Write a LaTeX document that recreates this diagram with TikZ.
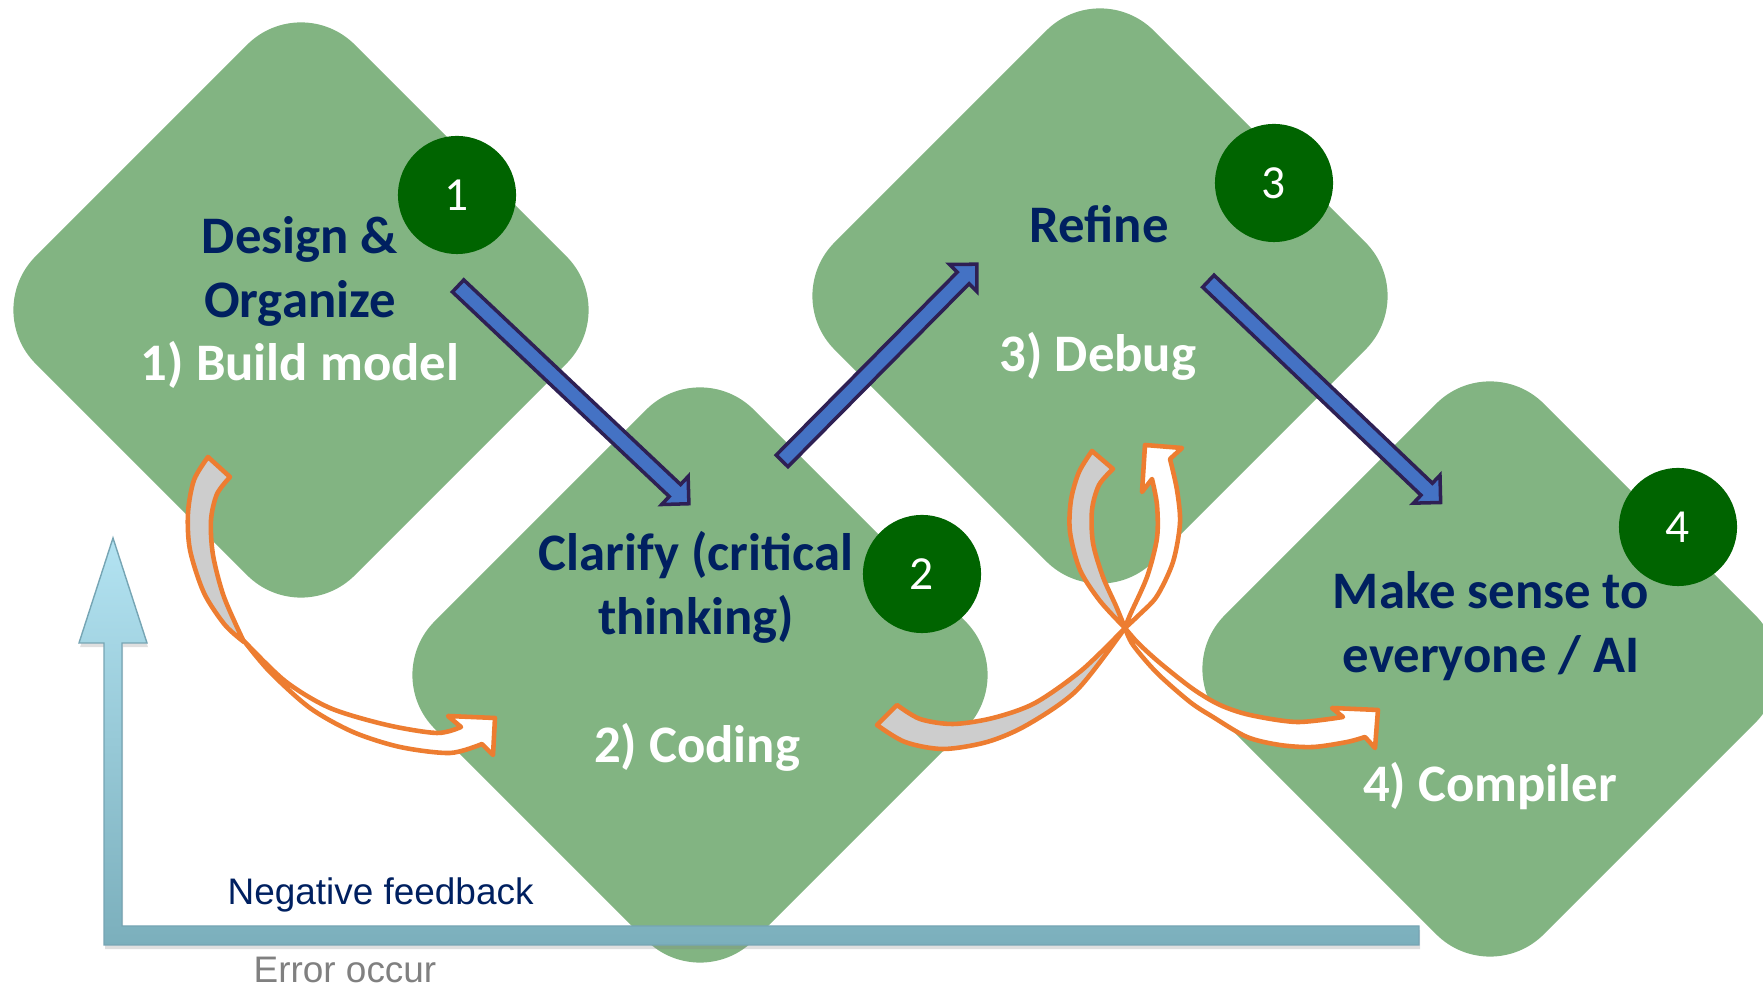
\documentclass[tikz,border=0pt]{standalone}
\usepackage{fontspec}
\setmainfont{Carlito}
\newfontfamily\arialfont{Liberation Sans}
\usetikzlibrary{shapes.arrows,calc,shadows}
\definecolor{boxgreen}{RGB}{130,180,130}
\definecolor{badgegreen}{RGB}{0,100,0}
\definecolor{navytext}{RGB}{0,32,96}
\definecolor{arrowblue}{RGB}{68,114,196}
\definecolor{arrowedge}{RGB}{46,32,84}
\definecolor{ribbonorange}{RGB}{237,125,49}
\definecolor{ribbongray}{RGB}{205,205,205}
\definecolor{loopdark}{RGB}{123,175,188}
\definecolor{looplight}{RGB}{179,227,242}
\definecolor{loopedge}{RGB}{118,165,180}
\definecolor{errgray}{RGB}{128,128,128}
\tikzset{
	stepshape/.style={rectangle,fill=boxgreen,rotate=45,minimum size=4.51cm,rounded corners=0.76cm,inner sep=0pt},
	badge/.style={circle,fill=badgegreen,text=white,minimum size=1.18cm,inner sep=0pt,font=\fontsize{13.5}{16}\selectfont},
	heading/.style={text=navytext,align=center,inner sep=0pt,font=\fontsize{15}{18.2}\selectfont\bfseries},
	steptext/.style={text=white,inner sep=0pt,font=\fontsize{15}{18.2}\selectfont\bfseries},
	flow/.style={single arrow,draw=arrowedge,fill=arrowblue,line width=1pt,inner xsep=0pt,inner ysep=0.065cm,
		single arrow head extend=0.11cm,single arrow tip angle=90,sloped},
	ribbonback/.style={fill=ribbongray,draw=ribbonorange,line width=1.3pt,line join=round},
	ribbonfront/.style={fill=white,draw=ribbonorange,line width=1.3pt,line join=round}
}
\begin{document}
\begin{tikzpicture}[x=0.01cm,y=-0.01cm]
	\useasboundingbox (0,0) rectangle (1763,986);
	\clip (0,0) rectangle (1763,986);
	% stages
	\node[stepshape] (d1) at (301,310) {};
	\node[stepshape] (d2) at (700,675) {};
	\node[stepshape] (d3) at (1100,296) {};
	\node[stepshape] (d4) at (1490,669) {};
	% feedback loop
	\draw[top color=looplight,bottom color=loopdark,draw=loopedge,line width=0.4pt,
		drop shadow={opacity=0.25,shadow xshift=0.3pt,shadow yshift=-1.2pt}]
		(113,538)--(147,643)--(122,643)--(122,926)--(1419,926)--(1419,945)--(104,945)--(104,643)--(79,643)--cycle;
	\node[anchor=base west,inner sep=0pt,text=navytext,font=\arialfont\fontsize{10.5}{12}\selectfont] (neg) at (227,905) {Negative feedback};
	\node[anchor=base west,inner sep=0pt,text=errgray,font=\arialfont\fontsize{10.5}{12}\selectfont] (err) at (253,983) {Error occur};
	% texts (base = last line)
	\node[heading,anchor=base] (h1) at (300,318) {Design \&\\Organize};
	\node[steptext,anchor=base] (s1) at (300,381) {1) Build model};
	\node[heading,anchor=base] (h2) at (696,635) {Clarify (critical\\thinking)};
	\node[steptext,anchor=base] (s2) at (697,763) {2) Coding};
	\node[heading,anchor=base] (h3) at (1099,243) {Refine};
	\node[steptext,anchor=base] (s3) at (1098,372) {3) Debug};
	\node[heading,anchor=base] (h4) at (1491,673) {Make sense to\\everyone / AI};
	\node[steptext,anchor=base] (s4) at (1490,802) {4) Compiler};
	% numbers
	\node[badge] (n1) at (457,195) {1};
	\node[badge] (n2) at (922,574) {2};
	\node[badge] (n3) at (1274,183) {3};
	\node[badge] (n4) at (1678,527) {4};
	% blue arrows
	\coordinate (f1s) at (455,283); \coordinate (f1e) at (686,501);
	\coordinate (f2s) at (779,464); \coordinate (f2e) at (974,267);
	\coordinate (f3s) at (1205,278); \coordinate (f3e) at (1438,500);
	\foreach \fs/\fe in {f1s/f1e,f2s/f2e,f3s/f3e}
		\path let \p1=($(\fe)-(\fs)$),\n1={veclen(\x1,\y1)} in (\fs)--(\fe) node[flow,midway,minimum height=\n1] {};
	% orange ribbons
	\filldraw[ribbonback] plot[smooth] coordinates {(208,457) (194,480) (188,513) (190,550) (204,593) (225,625) (244,642)}
		-- plot[smooth] coordinates {(244,642) (224,597) (213,555) (211,520) (217,494) (230,477)} -- cycle;
	\filldraw[ribbonfront] plot[smooth] coordinates {(244,641) (285,681) (330,708) (387,725) (437,733) (461,727)}
		-- (448,716) -- (495,718) -- (493,755) -- (482,744)
		-- plot[smooth] coordinates {(482,744) (450,753) (400,747) (353,732) (310,708) (270,672) (244,641)} -- cycle;
	\filldraw[ribbonback] plot[smooth] coordinates {(877,725) (905,742) (943,749) (987,742) (1027,725) (1077,690) (1125,628)}
		-- plot[smooth] coordinates {(1125,628) (1082,670) (1035,703) (993,718) (953,724) (920,719) (897,705)} -- cycle;
	\filldraw[ribbonback] plot[smooth] coordinates {(1092,451) (1079,472) (1071,500) (1070,532) (1080,570) (1100,601) (1125,628)}
		-- plot[smooth] coordinates {(1125,628) (1116,606) (1103,577) (1093,543) (1092,510) (1099,485) (1113,469)} -- cycle;
	\filldraw[ribbonfront] plot[smooth] coordinates {(1125,628) (1140,614) (1157,596) (1173,562) (1180,523) (1177,490) (1170,459)}
		-- (1182,448) -- (1145,445) -- (1142,492) -- (1152,479)
		-- plot[smooth] coordinates {(1152,479) (1157,505) (1157,538) (1147,577) (1130,615) (1125,628)} -- cycle;
	\filldraw[ribbonfront] plot[smooth] coordinates {(1125,628) (1138,643) (1160,663) (1193,689) (1220,705) (1250,715) (1297,722) (1343,717)}
		-- (1332,708) -- (1378,710) -- (1375,748) -- (1365,737)
		-- plot[smooth] coordinates {(1365,737) (1347,742) (1313,747) (1280,745) (1247,737) (1213,717) (1190,702) (1157,673) (1133,645) (1125,628)} -- cycle;
\end{tikzpicture}
\end{document}
